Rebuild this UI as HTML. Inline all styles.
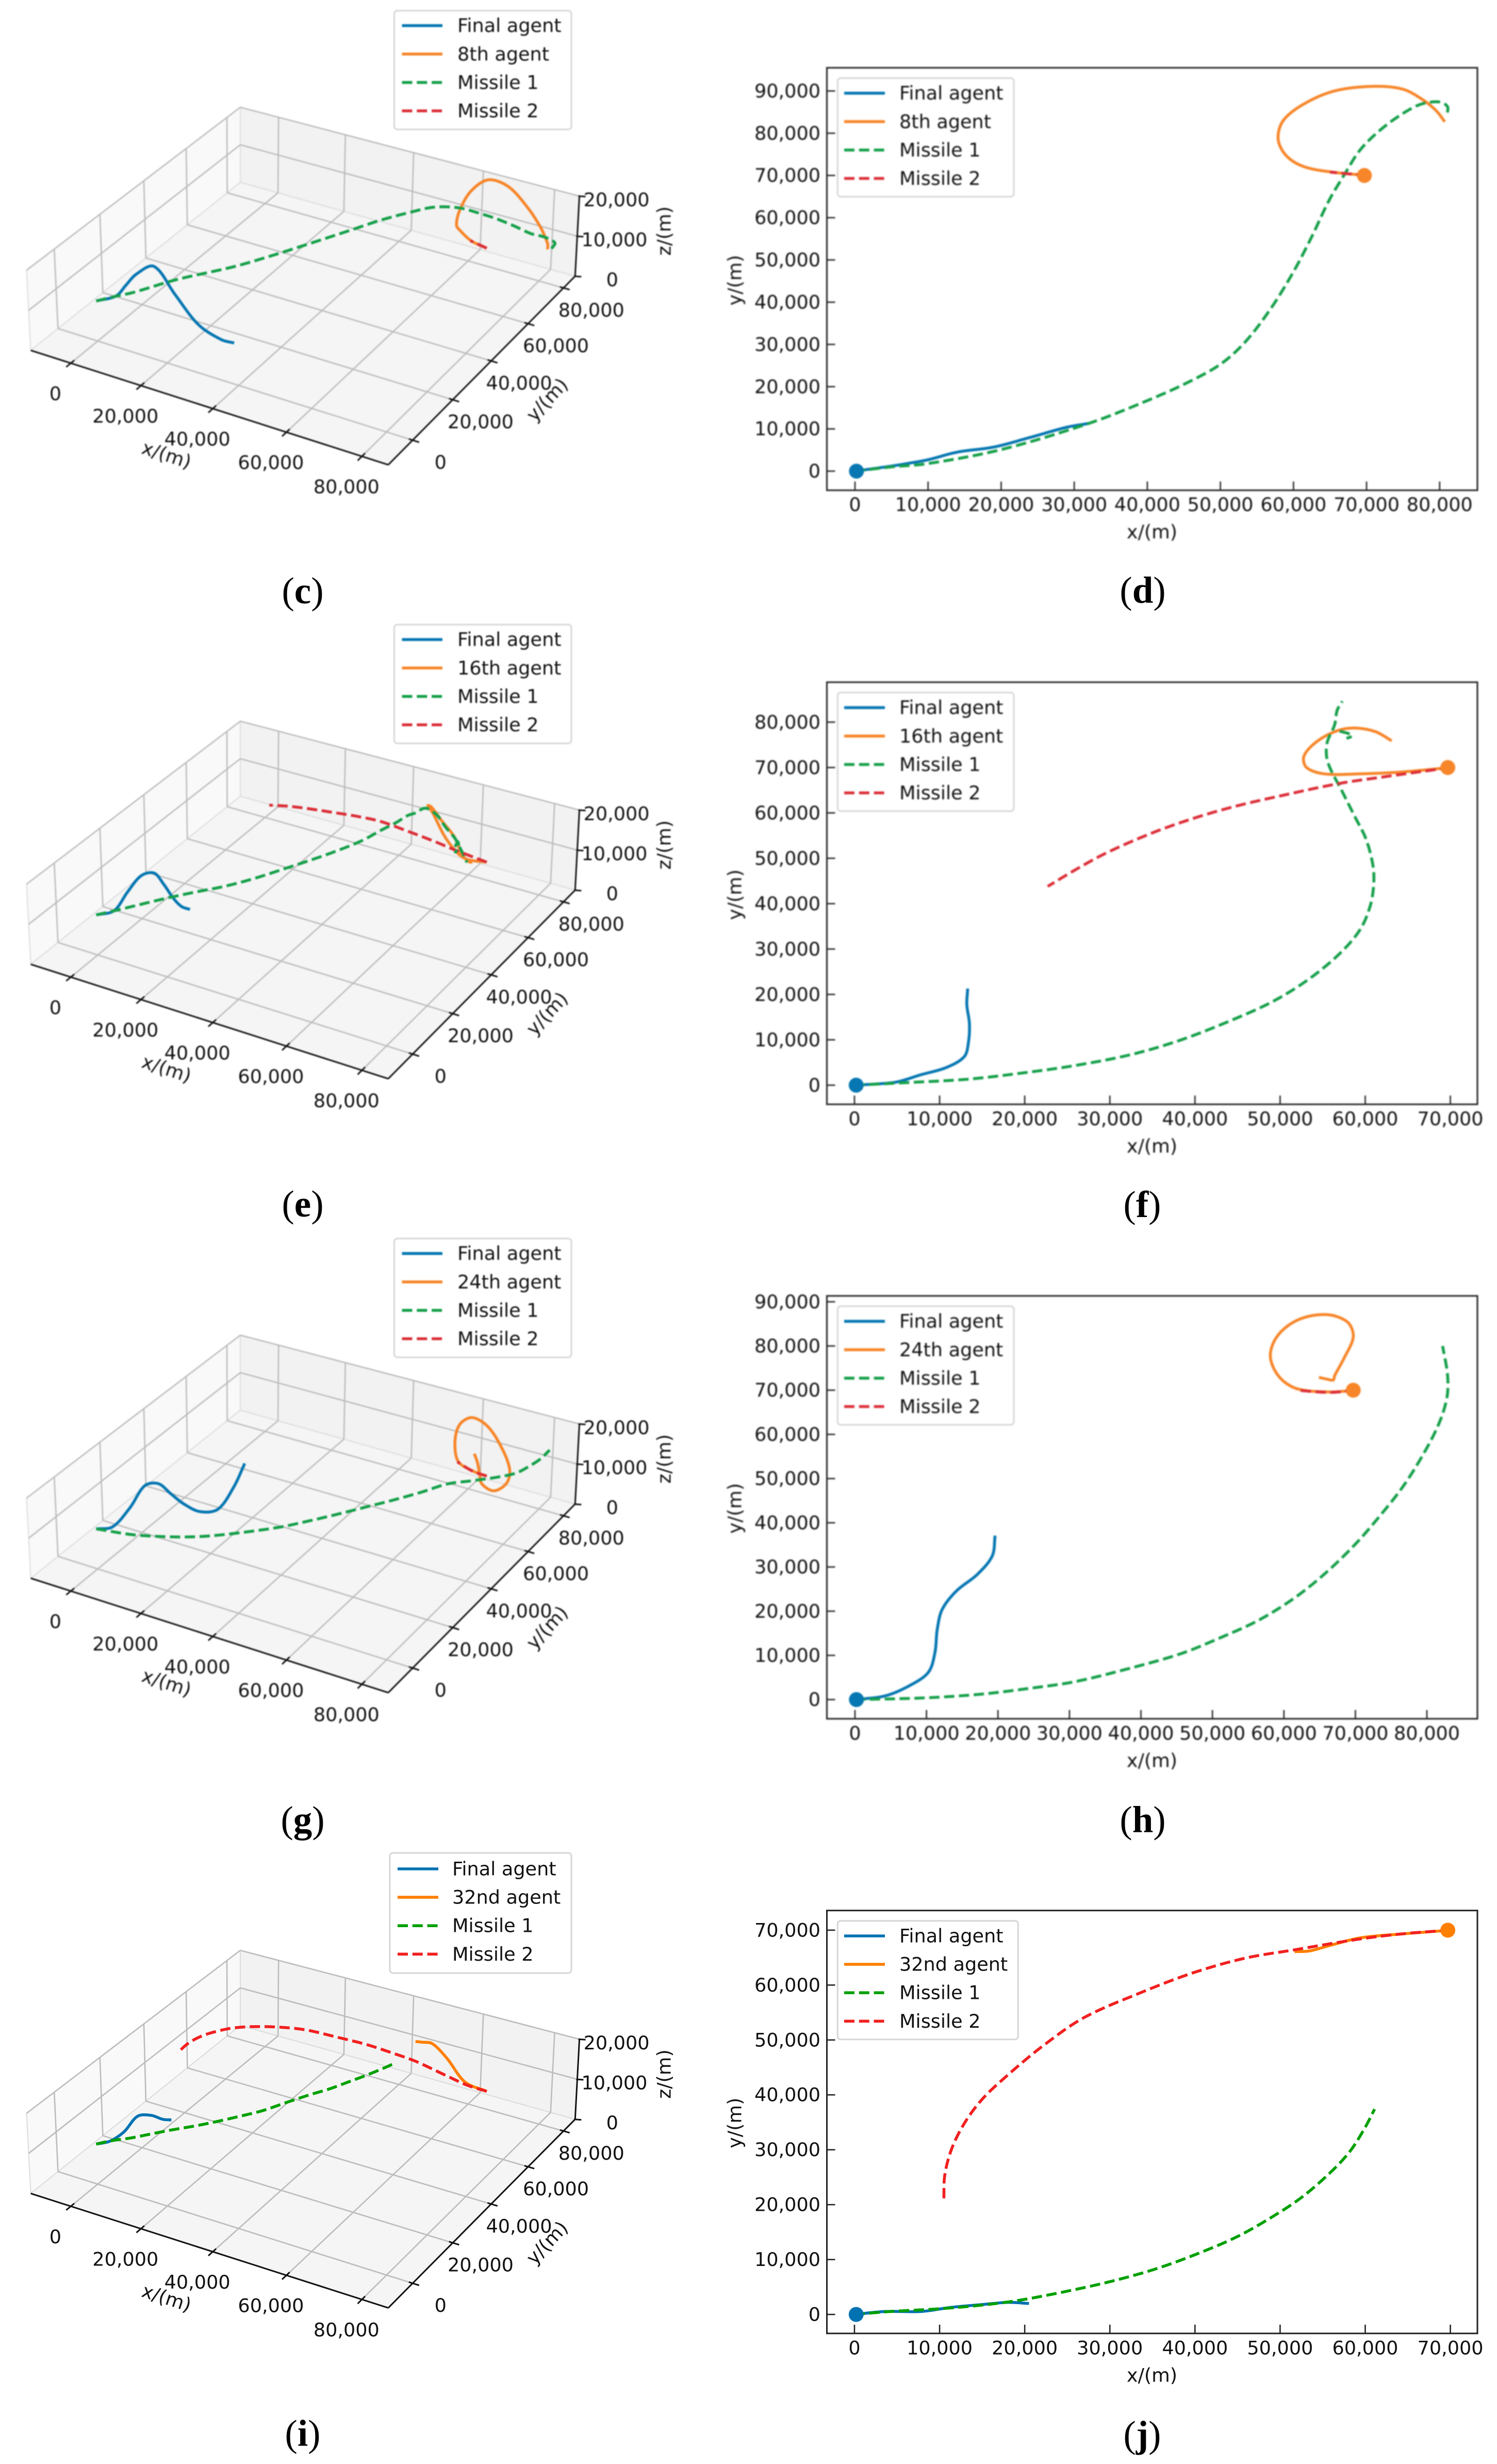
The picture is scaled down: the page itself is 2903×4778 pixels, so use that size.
<!DOCTYPE html>
<html lang="en">
<head>
<meta charset="utf-8">
<title>Agent and missile trajectories</title>
<style>
html,body{margin:0;padding:0;background:#fff;}
svg{display:block;}
text{font-family:"DejaVu Sans","Liberation Sans",sans-serif;fill:#111;}
text.caption{font-family:"Liberation Serif",serif;fill:#000;}
</style>
</head>
<body>
<svg id="figure" xmlns="http://www.w3.org/2000/svg" width="2903" height="4778" viewBox="0 0 2903 4778">
<rect x="0" y="0" width="2903" height="4778" fill="#ffffff"/>
</svg>
<script>
// ---------- tick values ----------
const ticks3dXY = [0, 20000, 40000, 60000, 80000];
const ticks3dZ = [0, 10000, 20000];
const ticksX80 = [0, 10000, 20000, 30000, 40000, 50000, 60000, 70000, 80000];
const ticksX70 = [0, 10000, 20000, 30000, 40000, 50000, 60000, 70000];
const ticksY90 = [0, 10000, 20000, 30000, 40000, 50000, 60000, 70000, 80000, 90000];
const ticksY80 = [0, 10000, 20000, 30000, 40000, 50000, 60000, 70000, 80000];
const ticksY70 = [0, 10000, 20000, 30000, 40000, 50000, 60000, 70000];
const markerX = [200, 69700];
const markerY = [0, 70000];

// ---------- panels c / d ----------
const cdFinalX = [0, 5000, 7500, 10000, 14000, 19000, 24000, 29000, 32000];
const cdFinalY = [0, 1200, 1900, 2700, 4500, 5700, 8000, 10400, 11300];
const cdFinalZ = [10000, 12000, 15000, 18000, 20200, 14000, 6800, 3300, 2900];
const cdAgentX = [70000, 65300, 61400, 59000, 57900, 58600, 61400, 65600, 70900, 75000, 77800, 79600, 80700];
const cdAgentY = [70000, 70800, 72100, 74700, 78600, 83000, 86900, 90000, 91100, 90400, 87800, 85200, 82700];
const cdAgentZ = [10000, 10300, 11400, 11100, 13100, 16100, 18000, 16000, 11300, 7700, 6600, 6700, 6900];
const cdM1X = [0, 5000, 10000, 20000, 32000, 40000, 45300, 50000, 53400, 56900, 60000, 62500, 64900, 67000, 69100, 71900, 75000, 77500, 80000, 81100, 80900];
const cdM1Y = [0, 1000, 1800, 5100, 11300, 16700, 20800, 25300, 30600, 38500, 47200, 55500, 64200, 70300, 76000, 80800, 84700, 86900, 87400, 86200, 83900];
const cdM1Z = [10000, 12000, 14000, 18200, 21600, 24100, 25800, 27100, 27500, 27300, 26200, 24600, 21300, 18000, 14700, 11500, 8600, 7500, 6800, 6900, 6300];
const cdM2X = [70000, 65000];
const cdM2Y = [70000, 70800];
const cdM2Z = [10000, 10300];

// ---------- panels e / f ----------
const efFinalX = [0, 4800, 7800, 10800, 12900, 13400, 13500, 13200, 13300];
const efFinalY = [0, 650, 2300, 3900, 6300, 9600, 13600, 17700, 21300];
const efFinalZ = [10000, 12000, 16700, 20800, 20900, 16800, 11500, 7500, 5200];
const efAgentX = [70000, 64200, 59400, 55200, 53100, 52800, 54300, 56700, 58800, 61200, 63100];
const efAgentY = [70000, 69000, 68600, 68600, 70000, 72500, 75700, 78100, 78700, 77900, 75900];
const efAgentZ = [10000, 10000, 13600, 19400, 20100, 18600, 14000, 9600, 5300, 4500, 5700];
const efM1X = [0, 5400, 13200, 19800, 25800, 32400, 38400, 44400, 49200, 53400, 57000, 59400, 60600, 61000, 60900, 60100, 58800, 57300, 55600, 55500, 56400, 56700, 57300];
const efM1Y = [0, 500, 1300, 2700, 4300, 6700, 10000, 14400, 18500, 23400, 29000, 34300, 39600, 44500, 48500, 54200, 59100, 64700, 71200, 75300, 79400, 82600, 84600];
const efM1Z = [10000, 12300, 15700, 18300, 20400, 22400, 24300, 26300, 27800, 28900, 29800, 30700, 30600, 30300, 29200, 27700, 25300, 21800, 17300, 13000, 8400, 4000, 500];
const efCurlX = [57000, 58000, 58500, 57800];
const efCurlY = [78000, 77500, 77000, 76400];
const efCurlZ = [7200, 9000, 8000, 6500];
const efM2X = [70000, 62400, 57000, 50400, 44400, 39000, 34200, 29400, 25800, 22700];
const efM2Y = [70000, 68000, 66500, 63900, 61300, 58300, 55000, 51000, 47300, 43800];
const efM2Z = [10000, 11900, 13500, 15700, 17700, 19000, 20200, 21700, 23000, 24000];

// ---------- panels g / h ----------
const ghFinalX = [0, 4200, 7800, 10300, 11200, 11500, 12200, 14200, 17100, 19200, 19600];
const ghFinalY = [0, 830, 3300, 6250, 10800, 15800, 20400, 24600, 28300, 32500, 37100];
const ghFinalZ = [10000, 11200, 15800, 20600, 19300, 14600, 10200, 6900, 6600, 10900, 14900];
const ghAgentX = [70000, 66400, 61700, 59200, 58100, 59200, 62100, 66000, 68900, 69700, 68500, 67100, 66900, 66000, 64900];
const ghAgentY = [70000, 69600, 70400, 73300, 77900, 82500, 86000, 87100, 85400, 82100, 77500, 73300, 72300, 72500, 72900];
const ghAgentZ = [10000, 10500, 11500, 14800, 16800, 16800, 13600, 8100, 4600, 2900, 2700, 5900, 8700, 11500, 13100];
const ghM1X = [0, 9900, 17800, 24200, 30600, 38500, 45600, 51400, 56400, 61400, 65600, 69900, 73500, 76700, 79600, 81700, 82800, 82900, 82200];
const ghM1Y = [0, 400, 1250, 2500, 4000, 7100, 10400, 14200, 17900, 22900, 28300, 35000, 41700, 48300, 55800, 62500, 68300, 73300, 80000];
const ghM1Z = [10000, 11000, 12200, 13200, 14500, 16100, 17600, 18900, 20000, 20800, 21100, 21200, 21200, 19900, 18200, 16900, 16600, 16000, 15200];
const ghM2X = [70000, 66400, 61700];
const ghM2Y = [70000, 69500, 70000];
const ghM2Z = [10000, 10500, 11500];

// ---------- panels i / j ----------
const ijFinalX = [0, 3600, 7800, 11400, 15000, 18000, 20500];
const ijFinalY = [0, 540, 540, 1300, 1800, 2200, 2000];
const ijFinalZ = [10000, 11400, 14800, 19300, 20200, 19800, 20400];
const ijAgentX = [70000, 64200, 59400, 55800, 53400, 51700];
const ijAgentY = [70000, 69300, 68600, 67200, 66200, 66100];
const ijAgentZ = [10000, 11200, 16200, 19700, 19900, 19700];
const ijM1X = [0, 4200, 9600, 15000, 19800, 25800, 30600, 35400, 40200, 45000, 49200, 52500, 55800, 58200, 60000, 61100];
const ijM1Y = [0, 540, 1000, 1700, 2700, 4500, 6200, 8300, 11000, 14200, 17900, 21300, 25700, 29700, 34100, 37400];
const ijM1Z = [10000, 11700, 13600, 15700, 17400, 19200, 20700, 22200, 23600, 25400, 26700, 27400, 28200, 28600, 28700, 28700];
const ijM2X = [70000, 64800, 59400, 51600, 45900, 39900, 33600, 27000, 22200, 18000, 15000, 12900, 11400, 10600, 10500];
const ijM2Y = [70000, 69400, 68400, 66400, 64900, 62300, 58600, 54100, 49000, 43600, 39200, 34800, 30100, 25300, 20900];
const ijM2Z = [10000, 10500, 12000, 14600, 15900, 17700, 19600, 21800, 23500, 24900, 25700, 26200, 26600, 26600, 26200];

// ---------- render helpers ----------
const NS = 'http://www.w3.org/2000/svg';
const root = document.getElementById('figure');
const FONT = 36.6;
const LINE_W = 5.6;
const DASH = '20 8.8';
const fmt = v => v.toString().replace(/\B(?=(\d{3})+$)/g, ',');

function mk(parent, tag, attrs, name, text) {
  const el = document.createElementNS(NS, tag);
  for (const k in attrs) el.setAttribute(k, attrs[k]);
  
  
  if (text !== undefined) el.textContent = text;
  parent.appendChild(el);
  return el;
}

function smoothPath(pts) {
  if (pts.length < 3) return 'M' + pts.map(p => p[0].toFixed(1) + ' ' + p[1].toFixed(1)).join('L');
  const dist = (a, b) => Math.max(0.001, Math.hypot(a[0] - b[0], a[1] - b[1]));
  const n = pts.length;
  const tan = pts.map((p, i) => {
    if (i === 0) {
      const d = dist(pts[1], p);
      return [(pts[1][0] - p[0]) / d, (pts[1][1] - p[1]) / d];
    }
    if (i === n - 1) {
      const d = dist(p, pts[n - 2]);
      return [(p[0] - pts[n - 2][0]) / d, (p[1] - pts[n - 2][1]) / d];
    }
    const d = dist(pts[i + 1], p) + dist(p, pts[i - 1]);
    return [(pts[i + 1][0] - pts[i - 1][0]) / d, (pts[i + 1][1] - pts[i - 1][1]) / d];
  });
  let out = 'M' + pts[0][0].toFixed(1) + ' ' + pts[0][1].toFixed(1);
  for (let i = 0; i < n - 1; i++) {
    const d = dist(pts[i + 1], pts[i]) / 3;
    const c1 = [pts[i][0] + tan[i][0] * d, pts[i][1] + tan[i][1] * d];
    const c2 = [pts[i + 1][0] - tan[i + 1][0] * d, pts[i + 1][1] - tan[i + 1][1] * d];
    out += 'C' + c1[0].toFixed(1) + ' ' + c1[1].toFixed(1) + ' ' + c2[0].toFixed(1) + ' ' + c2[1].toFixed(1) + ' ' + pts[i + 1][0].toFixed(1) + ' ' + pts[i + 1][1].toFixed(1);
  }
  return out;
}

function homography(q) {
  const [x0, y0] = q[0], [x1, y1] = q[1], [x2, y2] = q[2], [x3, y3] = q[3];
  const dx1 = x1 - x2, dx2 = x3 - x2, sx = x0 - x1 + x2 - x3;
  const dy1 = y1 - y2, dy2 = y3 - y2, sy = y0 - y1 + y2 - y3;
  const den = dx1 * dy2 - dx2 * dy1;
  const g = (sx * dy2 - dx2 * sy) / den, h = (dx1 * sy - sx * dy1) / den;
  const a = x1 - x0 + g * x1, b = x3 - x0 + h * x3, d = y1 - y0 + g * y1, e = y3 - y0 + h * y3;
  return (u, v) => {
    const w = g * u + h * v + 1;
    return [(a * u + b * v + x0) / w, (d * u + e * v + y0) / w];
  };
}

const COLORS_BLUR = { final: '#0677b2', agent: '#f7862a', m1: '#16a04a', m2: '#dc2f38' };
const COLORS_SHARP = { final: '#0072b2', agent: '#ff7f00', m1: '#00a000', m2: '#f22020' };

function drawLegend(g, box, agentName, colors, name) {
  const lg = mk(g, 'g', {}, name + '-legend');
  mk(lg, 'rect', { x: box.x, y: box.y, width: box.w, height: box.h, rx: 6, fill: '#fff', stroke: '#d6d6d6', 'stroke-width': 3 }, 'legend-frame');
  const rows = [
    ['Final agent', colors.final, false, 'legend-entry-final-agent'],
    [agentName, colors.agent, false, 'legend-entry-comparison-agent'],
    ['Missile 1', colors.m1, true, 'legend-entry-missile-1'],
    ['Missile 2', colors.m2, true, 'legend-entry-missile-2']
  ];
  rows.forEach((r, i) => {
    const y = box.firstRow + i * box.rowStep;
    const attrs = { x1: box.lineX, x2: box.lineX + box.lineW, y1: y, y2: y, stroke: r[1], 'stroke-width': LINE_W };
    if (r[2]) attrs['stroke-dasharray'] = DASH;
    mk(lg, 'line', attrs, r[3] + '-swatch');
    mk(lg, 'text', { x: box.textX, y: y, 'font-size': FONT, 'dominant-baseline': 'central' }, r[3] + '-label', r[0]);
  });
}

function drawCaption(letter, x, y) {
  const t = mk(root, 'text', { class: 'caption', x: x, y: y, 'font-size': 73, 'text-anchor': 'middle' }, 'caption-' + letter);
  t.appendChild(document.createTextNode('('));
  mk(t, 'tspan', { 'font-weight': 'bold' }, 'caption-letter-' + letter, letter);
  t.appendChild(document.createTextNode(')'));
}

// ---------- 3D panel ----------
function draw3D(cfg) {
  const g = mk(root, 'g', { transform: 'translate(0,' + cfg.dy + ')', style: cfg.blur ? 'filter:blur(' + cfg.blur + 'px)' : '' }, 'panel-' + cfg.id + '-3d-plot');
  const A = [59.7, 679.4], B = [752.9, 901.3], C = [1115.3, 535.6], D = [466, 353.5];
  const At = [51.4, 524], Bt = [752.9, 733], Ct = [1123.6, 380.3], Dt = [466, 208];
  const xMin = -11640, xMax = 86860, yMin = -11770, yMax = 86730, zMax = 20000;
  const floor = homography([A, B, C, D]);
  const top = homography([At, Bt, Ct, Dt]);
  const proj = (x, y, z) => {
    const u = (x - xMin) / (xMax - xMin), v = (y - yMin) / (yMax - yMin), t = z / zMax;
    const p = floor(u, v), q = top(u, v);
    return [p[0] + (q[0] - p[0]) * t, p[1] + (q[1] - p[1]) * t];
  };
  const line = (parent, a, b, stroke, w, name) => mk(parent, 'line', { x1: a[0], y1: a[1], x2: b[0], y2: b[1], stroke: stroke, 'stroke-width': w }, name);
  const poly = (pts, fill, name) => mk(g, 'polygon', { points: pts.map(p => p[0] + ',' + p[1]).join(' '), fill: fill, stroke: '#dcdcdc', 'stroke-width': 2 }, name);

  poly([A, At, Dt, D], '#f9f9f9', 'left-wall-pane');
  poly([D, Dt, Ct, C], '#f2f2f2', 'back-wall-pane');
  poly([A, B, C, D], '#f5f5f5', 'floor-pane');

  const grid = mk(g, 'g', {}, 'grid-3d');
  const GC = '#bcbcbc', GW = 2.6;
  ticks3dXY.forEach(v => {
    line(grid, proj(v, yMin, 0), proj(v, yMax, 0), GC, GW, 'x-gridline-floor');
    line(grid, proj(v, yMax, 0), proj(v, yMax, zMax), GC, GW, 'x-gridline-wall');
    line(grid, proj(xMin, v, 0), proj(xMax, v, 0), GC, GW, 'y-gridline-floor');
    line(grid, proj(xMin, v, 0), proj(xMin, v, zMax), GC, GW, 'y-gridline-wall');
  });
  ticks3dZ.forEach(v => {
    if (v === 0) return;
    line(grid, proj(xMin, yMin, v), proj(xMin, yMax, v), GC, GW, 'z-gridline-left');
    line(grid, proj(xMin, yMax, v), proj(xMax, yMax, v), GC, GW, 'z-gridline-back');
  });

  const axes = mk(g, 'g', {}, 'axes-3d');
  line(axes, A, B, '#111', 3, 'x-axis-line');
  line(axes, B, C, '#111', 3, 'y-axis-line');
  line(axes, C, Ct, '#111', 3, 'z-axis-line');
  ticks3dXY.forEach(v => {
    line(axes, proj(v, yMin - 2000, 0), proj(v, yMin + 1500, 0), '#111', 3, 'x-tick');
    const lp = proj(v, yMin, 0);
    mk(axes, 'text', { x: lp[0] - 30, y: lp[1] + 59, 'font-size': FONT, 'text-anchor': 'middle', 'dominant-baseline': 'central' }, 'x-tick-label', fmt(v));
    line(axes, proj(xMax + 1700, v, 0), proj(xMax - 1000, v, 0), '#111', 3, 'y-tick');
    const lq = proj(xMax, v, 0);
    mk(axes, 'text', { x: lq[0] + 54, y: lq[1] + 43, 'font-size': FONT, 'text-anchor': 'middle', 'dominant-baseline': 'central' }, 'y-tick-label', fmt(v));
  });
  ticks3dZ.forEach(v => {
    const p = proj(xMax, yMax, v);
    line(axes, [p[0] - 2, p[1]], [p[0] + 12, p[1] + 1], '#111', 3, 'z-tick');
    mk(axes, 'text', { x: p[0] + 72, y: p[1] + 7, 'font-size': FONT, 'text-anchor': 'middle', 'dominant-baseline': 'central' }, 'z-tick-label', fmt(v));
  });
  mk(axes, 'text', { x: 323, y: 882, 'font-size': FONT, 'text-anchor': 'middle', 'dominant-baseline': 'central', transform: 'rotate(18 323 882)' }, 'x-axis-title', 'x/(m)');
  mk(axes, 'text', { x: 1061, y: 775, 'font-size': FONT, 'text-anchor': 'middle', 'dominant-baseline': 'central', transform: 'rotate(-47 1061 775)' }, 'y-axis-title', 'y/(m)');
  mk(axes, 'text', { x: 1288, y: 448, 'font-size': FONT, 'text-anchor': 'middle', 'dominant-baseline': 'central', transform: 'rotate(-90 1288 448)' }, 'z-axis-title', 'z/(m)');

  const series = mk(g, 'g', { fill: 'none' }, 'series-3d');
  cfg.series.forEach(s => {
    const pts = s.x.map((v, i) => proj(v, s.y[i], s.z[i]));
    const attrs = { d: smoothPath(pts), stroke: s.color, 'stroke-width': LINE_W, fill: 'none' };
    if (s.dash) attrs['stroke-dasharray'] = DASH;
    mk(series, 'path', attrs, s.name + '-3d-trajectory');
  });

  drawLegend(g, cfg.legend, cfg.agentName, cfg.colors, 'panel-' + cfg.id);
}

// ---------- 2D panel ----------
function draw2D(cfg) {
  const g = mk(root, 'g', { style: cfg.blur ? 'filter:blur(' + cfg.blur + 'px)' : '' }, 'panel-' + cfg.id + '-2d-plot');
  const L = 1603.5, R = 2865;
  const sx = v => cfg.x0 + v * cfg.kx;
  const sy = v => cfg.y0 - v * cfg.ky;
  mk(g, 'rect', { x: L, y: cfg.T, width: R - L, height: cfg.B - cfg.T, fill: '#fff', stroke: '#222', 'stroke-width': 3 }, 'plot-frame');
  const ax = mk(g, 'g', {}, 'axes-2d');
  cfg.xTicks.forEach(v => {
    mk(ax, 'line', { x1: sx(v), x2: sx(v), y1: cfg.B, y2: cfg.B - 17, stroke: '#222', 'stroke-width': 2.6 }, 'x-tick');
    mk(ax, 'text', { x: sx(v), y: cfg.B + 28, 'font-size': FONT, 'text-anchor': 'middle', 'dominant-baseline': 'central' }, 'x-tick-label', fmt(v));
  });
  cfg.yTicks.forEach(v => {
    mk(ax, 'line', { x1: L, x2: L + 16, y1: sy(v), y2: sy(v), stroke: '#222', 'stroke-width': 2.6 }, 'y-tick');
    mk(ax, 'text', { x: 1591, y: sy(v), 'font-size': FONT, 'text-anchor': 'end', 'dominant-baseline': 'central' }, 'y-tick-label', fmt(v));
  });
  mk(ax, 'text', { x: 2234, y: cfg.B + 81, 'font-size': FONT, 'text-anchor': 'middle', 'dominant-baseline': 'central' }, 'x-axis-title', 'x/(m)');
  const yT = cfg.T + 412;
  mk(ax, 'text', { x: 1425, y: yT, 'font-size': FONT, 'text-anchor': 'middle', 'dominant-baseline': 'central', transform: 'rotate(-90 1425 ' + yT + ')' }, 'y-axis-title', 'y/(m)');

  const series = mk(g, 'g', { fill: 'none' }, 'series-2d');
  cfg.series.forEach(s => {
    const pts = s.x.map((v, i) => [sx(v), sy(s.y[i])]);
    const attrs = { d: smoothPath(pts), stroke: s.color, 'stroke-width': LINE_W, fill: 'none' };
    if (s.dash) attrs['stroke-dasharray'] = DASH;
    mk(series, 'path', attrs, s.name + '-2d-trajectory');
  });
  mk(series, 'circle', { cx: sx(markerX[0]), cy: sy(markerY[0]), r: 14.5, fill: cfg.colors.final }, 'final-agent-start-marker');
  mk(series, 'circle', { cx: sx(markerX[1]), cy: sy(markerY[1]), r: 14.5, fill: cfg.colors.agent }, 'comparison-agent-start-marker');

  drawLegend(g, {
    x: 1624.3, y: cfg.T + 20, w: cfg.legendW, h: 230,
    firstRow: cfg.T + 49.3, rowStep: 55.1,
    lineX: 1637, lineW: 79, textX: 1744
  }, cfg.agentName, cfg.colors, 'panel-' + cfg.id);
}

function seriesSet(c, f, a, m1, m2, extra) {
  const list = [
    { name: 'comparison-agent', x: a[0], y: a[1], z: a[2], color: c.agent, dash: false },
    { name: 'final-agent', x: f[0], y: f[1], z: f[2], color: c.final, dash: false },
    { name: 'missile-1', x: m1[0], y: m1[1], z: m1[2], color: c.m1, dash: true },
    { name: 'missile-2', x: m2[0], y: m2[1], z: m2[2], color: c.m2, dash: true }
  ];
  if (extra) list.push({ name: 'missile-1-curl', x: extra[0], y: extra[1], z: extra[2], color: c.m1, dash: true });
  return list;
}

const legend3d = () => ({ x: 764.5, y: 20.7, w: 343.5, h: 230.3, firstRow: 49.7, rowStep: 55.1, lineX: 779.5, lineW: 78.5, textX: 887 });

// ---------- build ----------
const s1 = seriesSet(COLORS_BLUR, [cdFinalX, cdFinalY, cdFinalZ], [cdAgentX, cdAgentY, cdAgentZ], [cdM1X, cdM1Y, cdM1Z], [cdM2X, cdM2Y, cdM2Z]);
const s2 = seriesSet(COLORS_BLUR, [efFinalX, efFinalY, efFinalZ], [efAgentX, efAgentY, efAgentZ], [efM1X, efM1Y, efM1Z], [efM2X, efM2Y, efM2Z], [efCurlX, efCurlY, efCurlZ]);
const s3 = seriesSet(COLORS_BLUR, [ghFinalX, ghFinalY, ghFinalZ], [ghAgentX, ghAgentY, ghAgentZ], [ghM1X, ghM1Y, ghM1Z], [ghM2X, ghM2Y, ghM2Z]);
const s4 = seriesSet(COLORS_SHARP, [ijFinalX, ijFinalY, ijFinalZ], [ijAgentX, ijAgentY, ijAgentZ], [ijM1X, ijM1Y, ijM1Z], [ijM2X, ijM2Y, ijM2Z]);

draw3D({ id: 'c', dy: 0, blur: 1.1, series: s1, colors: COLORS_BLUR, agentName: '8th agent', legend: legend3d() });
draw2D({ id: 'd', T: 131.4, B: 950.7, x0: 1658, kx: 0.014172, y0: 913.6, ky: 0.008191, xTicks: ticksX80, yTicks: ticksY90, series: s1, colors: COLORS_BLUR, agentName: '8th agent', legendW: 341.7, blur: 1.4 });
draw3D({ id: 'e', dy: 1190.5, blur: 1.1, series: s2, colors: COLORS_BLUR, agentName: '16th agent', legend: legend3d() });
draw2D({ id: 'f', T: 1322.9, B: 2141.4, x0: 1657, kx: 0.016508, y0: 2104.3, ky: 0.0088, xTicks: ticksX70, yTicks: ticksY80, series: s2, colors: COLORS_BLUR, agentName: '16th agent', legendW: 341.7, blur: 1.4 });
draw3D({ id: 'g', dy: 2381, blur: 1.1, series: s3, colors: COLORS_BLUR, agentName: '24th agent', legend: legend3d() });
draw2D({ id: 'h', T: 2512.9, B: 3332.9, x0: 1658, kx: 0.013863, y0: 3295.7, ky: 0.008571, xTicks: ticksX80, yTicks: ticksY90, series: s3, colors: COLORS_BLUR, agentName: '24th agent', legendW: 341.7, blur: 1.4 });
draw3D({ id: 'i', dy: 3574, blur: 0, series: s4, colors: COLORS_SHARP, agentName: '32nd agent', legend: { x: 756, y: 19, w: 352, h: 233, firstRow: 50, rowStep: 55.1, lineX: 771, lineW: 79, textX: 877 } });
draw2D({ id: 'j', T: 3704.7, B: 4524.8, x0: 1657, kx: 0.016508, y0: 4488, ky: 0.010645, xTicks: ticksX70, yTicks: ticksY70, series: s4, colors: COLORS_SHARP, agentName: '32nd agent', legendW: 350, blur: 0 });

drawCaption('c', 587, 1170);
drawCaption('d', 2216, 1169);
drawCaption('e', 587, 2359);
drawCaption('f', 2215, 2360);
drawCaption('g', 587, 3553);
drawCaption('h', 2216, 3553);
drawCaption('i', 587, 4743);
drawCaption('j', 2215, 4745);
</script>
</body>
</html>
